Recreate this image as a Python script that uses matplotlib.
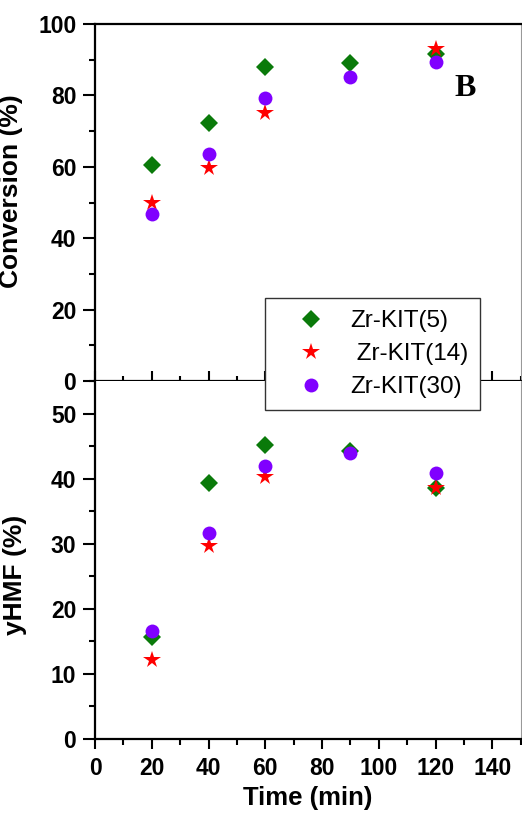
import numpy as np
import matplotlib
matplotlib.use("Agg")
import matplotlib.pyplot as plt
from matplotlib.ticker import MultipleLocator
from matplotlib.lines import Line2D

time = [20, 40, 60, 90, 120]
labels = ["Zr-KIT(5)", " Zr-KIT(14)", "Zr-KIT(30)"]
conv_kit5 = [60.6, 72.2, 88.0, 89.1, 91.5]
conv_kit14 = [49.8, 59.8, 75.2, np.nan, 92.9]
conv_kit30 = [46.7, 63.5, 79.3, 85.2, 89.4]
yhmf_kit5 = [15.6, 39.3, 45.2, 44.2, 38.6]
yhmf_kit14 = [12.1, 29.7, 40.2, np.nan, 38.5]
yhmf_kit30 = [16.6, 31.6, 42.0, 44.0, 40.8]

green = "#0a7a0a"
red = "#ff0000"
purple = "#8000ff"
styles = [dict(marker="D", color=green, ms=9),
          dict(marker="*", color=red, ms=13),
          dict(marker="o", color=purple, ms=10)]

plt.rcParams["font.family"] = ["Liberation Sans", "DejaVu Sans"]

W, H = 522, 816
fig = plt.figure(figsize=(W / 100, H / 100), dpi=100)
L, R = 95 / W, 520.7 / W
ax1 = fig.add_axes([L, 1 - 381 / H, R - L, (381 - 24) / H])
ax2 = fig.add_axes([L, 1 - 739 / H, R - L, (739 - 381) / H])

for ax, series in ((ax1, [conv_kit5, conv_kit14, conv_kit30]),
                   (ax2, [yhmf_kit5, yhmf_kit14, yhmf_kit30])):
    for s, st in zip(series, styles):
        ax.plot(time, s, linestyle="none", marker=st["marker"], color=st["color"],
                markersize=st["ms"], markeredgewidth=0, zorder=3)
    ax.set_xlim(0, 150)
    ax.xaxis.set_major_locator(MultipleLocator(20))
    ax.xaxis.set_minor_locator(MultipleLocator(10))
    for side in ("left", "bottom", "top"):
        ax.spines[side].set_linewidth(1.6)
    ax.spines["right"].set_linewidth(0.8)
    ax.spines["right"].set_color("#999999")
    ax.tick_params(axis="y", which="major", direction="out", length=8.5, width=1.5,
                   labelsize=16.5, pad=5)
    ax.tick_params(axis="y", which="minor", direction="out", length=4, width=1.5)

ax1.set_ylim(0, 100)
ax1.yaxis.set_major_locator(MultipleLocator(20))
ax1.yaxis.set_minor_locator(MultipleLocator(10))
ax1.tick_params(axis="x", which="major", direction="in", length=7, width=1.5,
                labelbottom=False)
ax1.tick_params(axis="x", which="minor", direction="in", length=3.5, width=1.5)

ax2.set_ylim(0, 55)
ax2.yaxis.set_major_locator(MultipleLocator(10))
ax2.yaxis.set_minor_locator(MultipleLocator(5))
ax2.tick_params(axis="x", which="major", direction="out", length=7, width=1.5,
                labelsize=16.5, pad=6)
ax2.tick_params(axis="x", which="minor", direction="out", length=4, width=1.5)
ax2.spines["top"].set_visible(False)

for ax in (ax1, ax2):
    for lab in ax.get_yticklabels() + ax.get_xticklabels():
        lab.set_fontweight("bold")

ax1.set_ylabel("Conversion (%)", fontsize=19, fontweight="bold")
ax1.yaxis.set_label_coords(-0.169, 0.532)
ax2.set_ylabel("yHMF (%)", fontsize=19, fontweight="bold")
ax2.yaxis.set_label_coords(-0.159, 0.458)
ax2.set_xlabel("Time (min)", fontsize=18.5, fontweight="bold", labelpad=4)

ax1.text(130.5, 81.8, "B", fontsize=23, fontweight="bold", family="Liberation Serif",
         ha="center", va="center")

handles = [Line2D([], [], linestyle="none", marker=st["marker"], color=st["color"],
                  markersize=st["ms"], markeredgewidth=0) for st in styles]
leg = fig.legend(handles, labels, loc="upper left",
                 bbox_to_anchor=(265 / W, 1 - 298 / H, (480 - 265) / W, 0),
                 mode="expand", fontsize=17.5, frameon=True, fancybox=False,
                 framealpha=1, handlelength=2.8, handletextpad=0.2,
                 labelspacing=0.45, borderpad=0.5, borderaxespad=0)
leg.get_frame().set_edgecolor("#333333")
leg.get_frame().set_linewidth(1.0)
leg.set_zorder(10)

fig.savefig("out.png", dpi=100)
